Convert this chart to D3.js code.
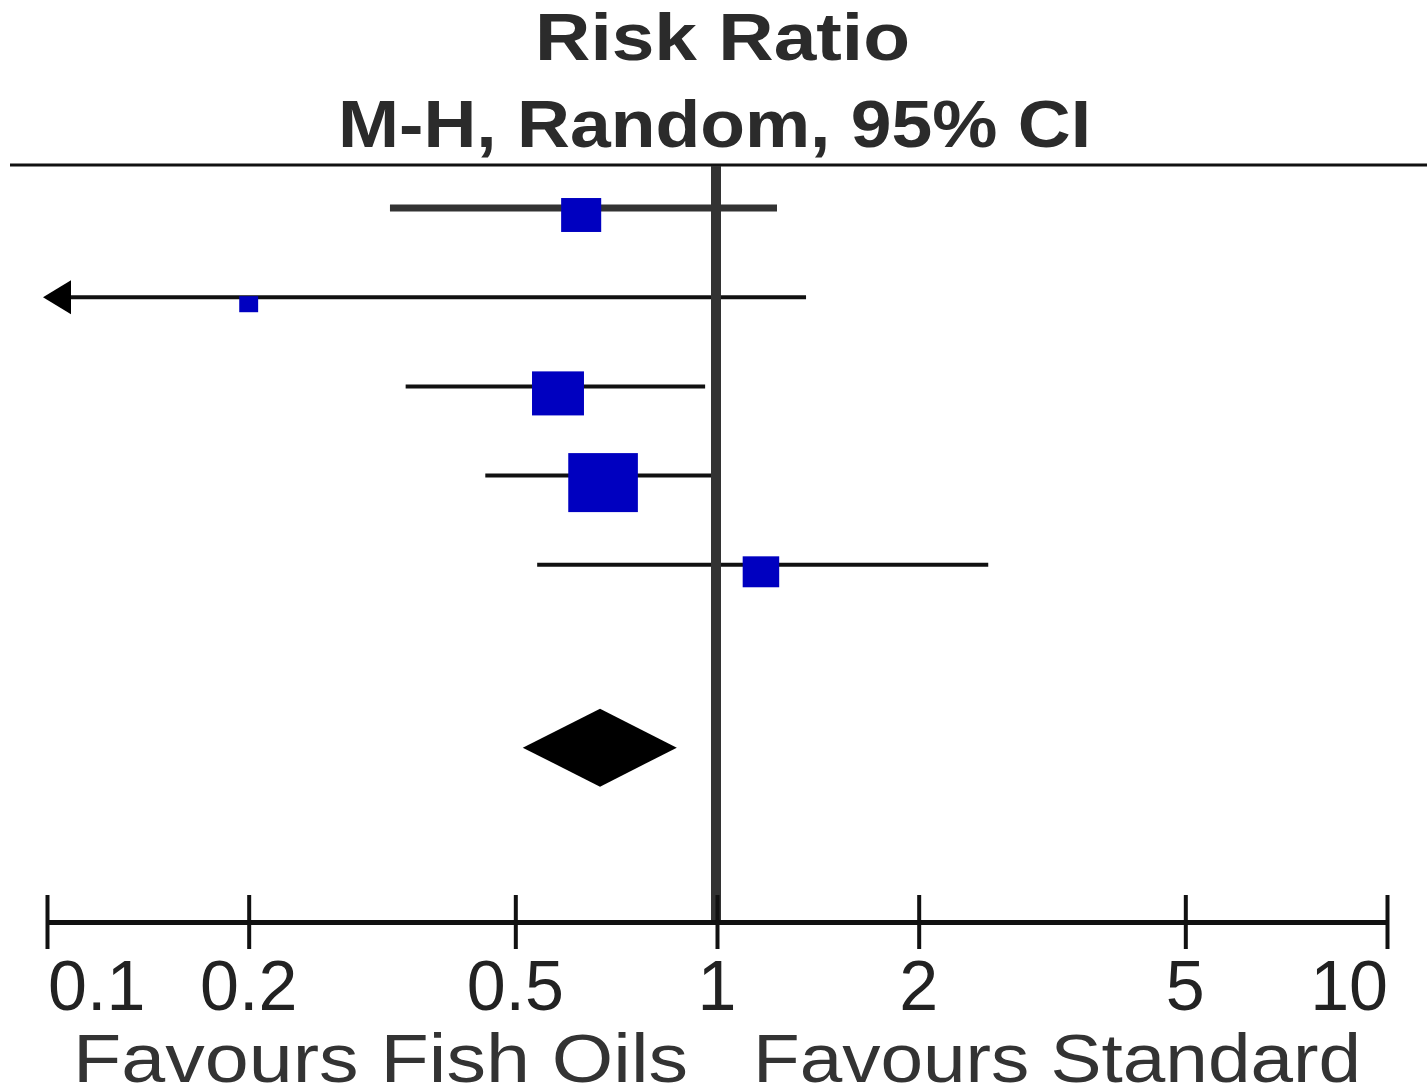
<!DOCTYPE html>
<html>
<head>
<meta charset="utf-8">
<script src="https://cdn.jsdelivr.net/npm/d3@7"></script>
<style>
  html, body { margin: 0; padding: 0; background: #fff; }
  svg { display: block; }
  text { font-family: "Liberation Sans", Arial, sans-serif; }
</style>
</head>
<body>
<svg id="chart" width="1427" height="1088"></svg>
<script>
// ---- data ----
const studies = ["Study 1", "Study 2", "Study 3", "Study 4", "Study 5"];
const riskRatio = [0.627, 0.20, 0.579, 0.676, 1.163];
const ciLower = [0.325, 0.02, 0.343, 0.451, 0.539];
const ciUpper = [1.229, 1.358, 0.960, 1.010, 2.54];
const weights = [14.8, 3.3, 24.9, 44.7, 12.3];
const pooled = { rr: 0.669, lower: 0.513, upper: 0.871 };
const tickValues = [0.1, 0.2, 0.5, 1, 2, 5, 10];
const tickLabels = ["0.1", "0.2", "0.5", "1", "2", "5", "10"];
const titleLines = ["Risk Ratio", "M-H, Random, 95% CI"];
const favourLabels = ["Favours Fish Oils", "Favours Standard"];

// ---- layout ----
const svg = d3.select("#chart");
const x = d3.scaleLog().domain([0.1, 10]).range([47, 1387]);
const y = d3.scaleLinear().domain([0, 1]).range([208, 297.2]);
const pooledRow = 6.05;
const boxH = d3.scaleSqrt().domain([0, 44.7]).range([0, 59]);
const stretch = 1.18;
const boxDy = 7;
const axisY = 922;

// Title
svg.append("text").attr("x", 535).attr("y", 60)
  .attr("textLength", 375).attr("lengthAdjust", "spacingAndGlyphs")
  .attr("font-size", 67).attr("font-weight", "bold").attr("fill", "#2b2b2b")
  .text(titleLines[0]);
svg.append("text").attr("x", 338).attr("y", 147)
  .attr("textLength", 753).attr("lengthAdjust", "spacingAndGlyphs")
  .attr("font-size", 66).attr("font-weight", "bold").attr("fill", "#2b2b2b")
  .text(titleLines[1]);

// top rule
svg.append("line").attr("x1", 10).attr("x2", 1427).attr("y1", 165).attr("y2", 165)
  .attr("stroke", "#111").attr("stroke-width", 3);

// CI lines
const rows = svg.append("g");
studies.forEach((s, i) => {
  const lo = Math.max(ciLower[i], 0.1);
  const x1 = ciLower[i] < 0.1 ? x(0.1) + 20 : x(lo);
  rows.append("line")
    .attr("x1", x1).attr("x2", x(ciUpper[i]))
    .attr("y1", y(i)).attr("y2", y(i))
    .attr("stroke", i === 0 ? "#333" : "#111")
    .attr("stroke-width", i === 0 ? 7 : 4);
  if (ciLower[i] < 0.1) {
    const yy = y(i), tip = x(0.1) - 4;
    rows.append("path")
      .attr("d", `M${tip},${yy} L${tip + 28},${yy - 17} L${tip + 28},${yy + 17} Z`)
      .attr("fill", "#000");
  }
});

// reference line at 1
svg.append("line").attr("x1", x(1) - 1).attr("x2", x(1) - 1)
  .attr("y1", 166).attr("y2", 925)
  .attr("stroke", "#333").attr("stroke-width", 10);

// boxes
studies.forEach((s, i) => {
  const h = boxH(weights[i]);
  const w = h * stretch;
  rows.append("rect")
    .attr("x", x(riskRatio[i]) - w / 2)
    .attr("y", y(i) + boxDy - h / 2)
    .attr("width", w).attr("height", h)
    .attr("fill", "#0000c0");
});

// pooled diamond
const py = y(pooledRow);
svg.append("path")
  .attr("d", `M${x(pooled.lower)},${py} L${x(pooled.rr)},${py - 39} L${x(pooled.upper)},${py} L${x(pooled.rr)},${py + 39} Z`)
  .attr("fill", "#000");

// axis
const axis = d3.axisBottom(x).tickValues(tickValues).tickFormat("").tickSize(27).tickSizeOuter(0);
const ag = svg.append("g").attr("transform", `translate(0,${axisY})`).call(axis);
ag.select(".domain").attr("stroke", "#111").attr("stroke-width", 5);
ag.selectAll(".tick line").attr("y1", -27).attr("y2", 27)
  .attr("stroke", "#111").attr("stroke-width", 4);

// tick labels
tickValues.forEach((v, i) => {
  const anchor = i === 0 ? "start" : (i === tickValues.length - 1 ? "end" : "middle");
  let xx = x(v);
  if (i === 0) xx = x(v) + 1;
  if (i === tickValues.length - 1) xx = x(v) + 1;
  svg.append("text").attr("x", xx).attr("y", 1010)
    .attr("text-anchor", anchor).attr("font-size", 70).attr("fill", "#222")
    .text(tickLabels[i]);
});

// favours labels
svg.append("text").attr("x", 73).attr("y", 1082)
  .attr("textLength", 615).attr("lengthAdjust", "spacingAndGlyphs")
  .attr("font-size", 68).attr("fill", "#333").text(favourLabels[0]);
svg.append("text").attr("x", 753).attr("y", 1082)
  .attr("textLength", 608).attr("lengthAdjust", "spacingAndGlyphs")
  .attr("font-size", 68).attr("fill", "#333").text(favourLabels[1]);
</script>
</body>
</html>
